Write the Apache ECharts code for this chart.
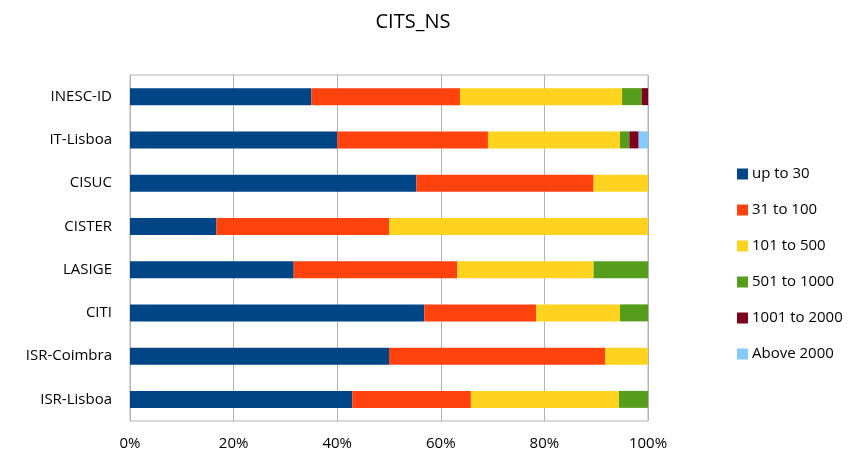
<!DOCTYPE html>
<html>
<head>
<meta charset="utf-8">
<script src="https://cdn.jsdelivr.net/npm/echarts@6/dist/echarts.min.js"></script>
<style>
  html, body { margin: 0; padding: 0; background: #fff; }
  #main { width: 858px; height: 456px; }
</style>
</head>
<body>
<div id="main"></div>
<script>
var chart = echarts.init(document.getElementById('main'))

// categories, bottom to top
var categories = ['ISR-Lisboa', 'ISR-Coimbra', 'CITI', 'LASIGE', 'CISTER', 'CISUC', 'IT-Lisboa', 'INESC-ID']
var seriesNames = ['up to 30', '31 to 100', '101 to 500', '501 to 1000', '1001 to 2000', 'Above 2000']
var colors = ['#004586', '#ff420e', '#ffd320', '#579d1c', '#7e0021', '#83caff']

// shares in %, same order as categories
var upTo30 = [42.9, 50.0, 56.8, 31.6, 16.7, 55.3, 40.0, 35.0]
var from31to100 = [22.9, 41.7, 21.6, 31.6, 33.3, 34.2, 29.1, 28.7]
var from101to500 = [28.6, 8.3, 16.2, 26.3, 50.0, 10.5, 25.5, 31.3]
var from501to1000 = [5.7, 0, 5.4, 10.5, 0, 0, 1.8, 3.8]
var from1001to2000 = [0, 0, 0, 0, 0, 0, 1.8, 1.2]
var above2000 = [0, 0, 0, 0, 0, 0, 1.8, 0]

var xTicks = [0, 20, 40, 60, 80, 100]

var allData = [upTo30, from31to100, from101to500, from501to1000, from1001to2000, above2000]
var fontName = '"Open Sans", sans-serif'

var series = []
for (var i = 0; i < allData.length; i++) {
    series.push({
        name: seriesNames[i],
        type: 'bar',
        stack: 'total',
        barWidth: 17,
        data: allData[i],
        itemStyle: { color: colors[i] }
    })
}

var option = {
    animation: false,
    color: colors,
    title: {
        text: 'CITS_NS',
        left: 408,
        textAlign: 'center',
        top: 7,
        textStyle: { fontFamily: fontName, fontSize: 20, fontWeight: 'normal', color: '#000' }
    },
    legend: {
        orient: 'vertical',
        left: 732,
        top: 160,
        itemWidth: 11,
        itemHeight: 11,
        itemGap: 18,
        icon: 'rect',
        data: seriesNames,
        textStyle: { fontFamily: fontName, fontSize: 15, color: '#000', padding: [0, 0, 0, -1], lineHeight: 18 }
    },
    grid: {
        left: 130,
        right: 210,
        top: 75,
        bottom: 35,
        show: true,
        borderColor: '#b3b3b3',
        borderWidth: 1
    },
    xAxis: {
        type: 'value',
        min: xTicks[0],
        max: xTicks[xTicks.length - 1],
        interval: 20,
        axisLine: { show: false },
        axisTick: { show: false },
        splitLine: { lineStyle: { color: '#b3b3b3' } },
        axisLabel: {
            margin: 15,
            fontFamily: fontName,
            fontSize: 15,
            color: '#000',
            formatter: '{value}%'
        }
    },
    yAxis: {
        type: 'category',
        data: categories,
        axisLine: { show: true, lineStyle: { color: '#b3b3b3' } },
        axisTick: { show: false },
        axisLabel: {
            margin: 18,
            fontFamily: fontName,
            fontSize: 15,
            color: '#000'
        }
    },
    series: series
}

chart.setOption(option)
</script>
</body>
</html>
